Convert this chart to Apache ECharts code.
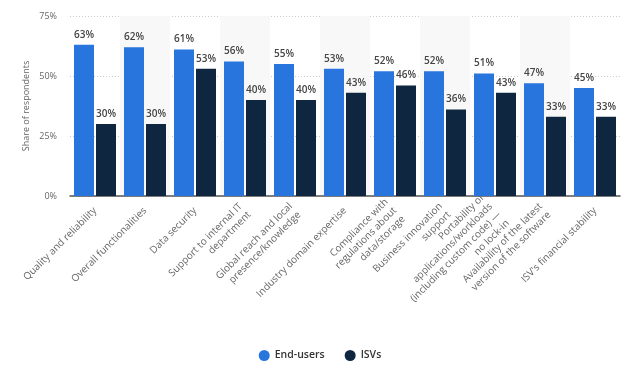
<!DOCTYPE html>
<html><head><meta charset="utf-8">
<script src="https://cdn.jsdelivr.net/npm/echarts@6/dist/echarts.min.js"></script>
<style>html,body{margin:0;padding:0;background:#fff}#c{width:640px;height:368px}</style>
</head><body><div id="c"></div>
<script>
const categories = [
  "Quality and reliability",
  "Overall functionalities",
  "Data security",
  "Support to internal IT\ndepartment",
  "Global reach and local\npresence/knowledge",
  "Industry domain expertise",
  "Compliance with\nregulations about\ndata/storage",
  "Business innovation\nsupport",
  "Portability of\napplications/workloads\n(including custom code) —\nno lock-in",
  "Availability of the latest\nversion of the software",
  "ISV's financial stability"
];
const endUsers = [63, 62, 61, 56, 55, 53, 52, 52, 51, 47, 45];
const isvs = [30, 30, 53, 40, 40, 43, 46, 36, 43, 33, 33];
const yTicks = [0, 25, 50, 75];

const chart = echarts.init(document.getElementById('c'));
const font = '"Open Sans", "DejaVu Sans", sans-serif';
const lbl = {show: true, position: 'top', distance: 5, formatter: p => p.value + '%', color: '#444', fontSize: 10, fontWeight: 600, fontFamily: font};
chart.setOption({
  animation: false,
  grid: {left: 70, right: 20, top: 16, bottom: 172},
  legend: {
    bottom: 2, left: 'center', icon: 'circle', itemWidth: 11, itemHeight: 11, itemGap: 20,
    textStyle: {color: '#333', fontSize: 10.5, fontWeight: 600, fontFamily: font},
    data: ['End-users', 'ISVs']
  },
  xAxis: {
    type: 'category', data: categories,
    axisLine: {lineStyle: {color: '#555', width: 1.5}},
    axisTick: {show: false},
    splitArea: {show: true, areaStyle: {color: ['rgba(0,0,0,0)', '#f8f8f8']}},
    axisLabel: {interval: 0, rotate: 45, color: '#666', fontSize: 10, fontFamily: font, margin: 13, lineHeight: 12}
  },
  yAxis: {
    type: 'value', min: 0, max: 75, interval: 25,
    name: 'Share of respondents', nameLocation: 'middle', nameGap: 39, nameMoveOverlap: false,
    nameTextStyle: {color: '#666', fontSize: 9, fontFamily: font},
    axisLabel: {color: '#666', fontSize: 9, fontFamily: font, margin: 13,
      formatter: v => yTicks.includes(v) ? v + '%' : ''},
    splitLine: {lineStyle: {color: '#ccc', type: [1, 2]}},
    axisLine: {show: false}, axisTick: {show: false}
  },
  series: [
    {name: 'End-users', type: 'bar', data: endUsers, barWidth: 20, barGap: '10%',
     itemStyle: {color: '#2876dd'}, label: lbl},
    {name: 'ISVs', type: 'bar', data: isvs, barWidth: 20,
     itemStyle: {color: '#0f2641'}, label: lbl}
  ]
});
</script></body></html>
